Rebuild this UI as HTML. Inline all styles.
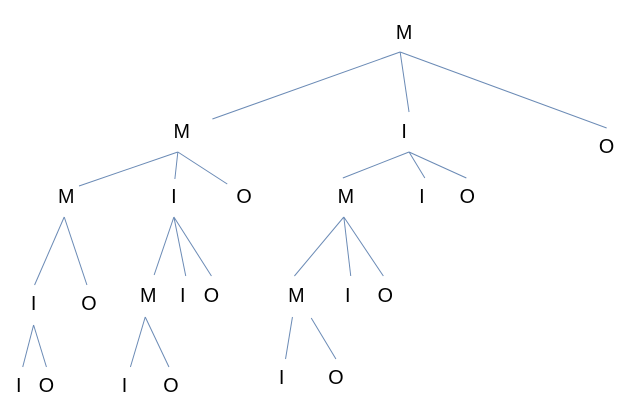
<!DOCTYPE html>
<html><head><meta charset="utf-8"><style>
html,body{margin:0;padding:0;background:#fff}
svg{display:block}
text{font-family:"Liberation Sans",sans-serif;font-size:20px;fill:#000;text-anchor:middle;dominant-baseline:central}
line{stroke:#6a8ab5;stroke-width:1}
</style></head><body>
<svg width="638" height="416" viewBox="0 0 638 416" xmlns="http://www.w3.org/2000/svg">
<g transform="scale(0.988 1)">
<line x1="405" y1="52" x2="215" y2="119"/>
<line x1="405" y1="52" x2="414" y2="112"/>
<line x1="405" y1="52" x2="614" y2="128"/>
<line x1="180" y1="152" x2="80" y2="186"/>
<line x1="180" y1="152" x2="177" y2="179"/>
<line x1="180" y1="152" x2="230" y2="184"/>
<line x1="414" y1="152" x2="347" y2="178"/>
<line x1="414" y1="152" x2="430" y2="178"/>
<line x1="414" y1="152" x2="472" y2="178"/>
<line x1="65" y1="217" x2="35" y2="285"/>
<line x1="65" y1="217" x2="88" y2="285"/>
<line x1="176" y1="217" x2="156" y2="275"/>
<line x1="176" y1="217" x2="188" y2="276"/>
<line x1="176" y1="217" x2="214" y2="276"/>
<line x1="348" y1="217" x2="298" y2="276"/>
<line x1="348" y1="217" x2="355" y2="276"/>
<line x1="348" y1="217" x2="388" y2="276"/>
<line x1="34" y1="325" x2="23" y2="367"/>
<line x1="34" y1="325" x2="47" y2="367"/>
<line x1="147" y1="317" x2="132" y2="367"/>
<line x1="147" y1="317" x2="171" y2="367"/>
<line x1="296" y1="317" x2="289" y2="359"/>
<line x1="315" y1="318" x2="340" y2="359"/>
<text x="409" y="33">M</text>
<text x="184" y="132">M</text>
<text x="409" y="132">I</text>
<text x="614" y="147">O</text>
<text x="67" y="197">M</text>
<text x="176" y="197">I</text>
<text x="247" y="197">O</text>
<text x="350" y="197">M</text>
<text x="427" y="197">I</text>
<text x="473" y="197">O</text>
<text x="34" y="304">I</text>
<text x="90" y="304">O</text>
<text x="150" y="296">M</text>
<text x="185" y="296">I</text>
<text x="214" y="296">O</text>
<text x="300" y="296">M</text>
<text x="352" y="296">I</text>
<text x="390" y="296">O</text>
<text x="19" y="386">I</text>
<text x="47" y="386">O</text>
<text x="126" y="386">I</text>
<text x="173" y="386">O</text>
<text x="285" y="378">I</text>
<text x="340" y="378">O</text>
</g>
</svg>
</body></html>
